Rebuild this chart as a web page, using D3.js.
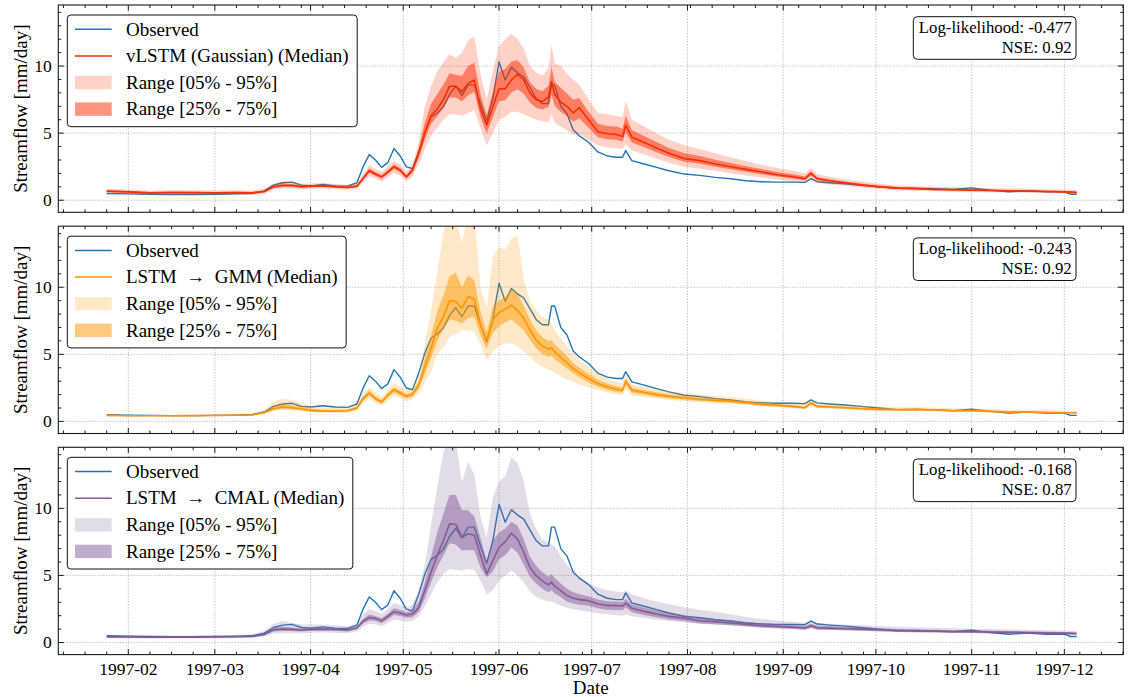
<!DOCTYPE html>
<html>
<head>
<meta charset="utf-8">
<script src="https://cdn.jsdelivr.net/npm/d3@7"></script>
<style>
  body { margin: 0; background: #fff; }
  svg { display: block; }
</style>
</head>
<body>
<svg id="chart" width="1133" height="697" font-family="Liberation Serif, Times New Roman, DejaVu Serif, serif"></svg>
<script>
// ---- data: daily streamflow (mm/day), sampled dates ----
const dates = [
  "1997-01-25","1997-02-01","1997-02-08","1997-02-15","1997-02-22",
  "1997-03-01","1997-03-08","1997-03-13","1997-03-17","1997-03-20","1997-03-23","1997-03-26","1997-03-29",
  "1997-04-01","1997-04-05","1997-04-09","1997-04-13","1997-04-16","1997-04-18","1997-04-20","1997-04-22","1997-04-24","1997-04-26","1997-04-28","1997-04-30",
  "1997-05-02","1997-05-04","1997-05-06","1997-05-08","1997-05-10","1997-05-12","1997-05-14","1997-05-16","1997-05-18","1997-05-20","1997-05-22","1997-05-24","1997-05-26","1997-05-28","1997-05-30",
  "1997-06-01","1997-06-03","1997-06-05","1997-06-07","1997-06-09","1997-06-11","1997-06-13","1997-06-15","1997-06-17","1997-06-18","1997-06-19","1997-06-21","1997-06-23","1997-06-25","1997-06-27","1997-06-30",
  "1997-07-03","1997-07-06","1997-07-09","1997-07-11","1997-07-12","1997-07-14","1997-07-18","1997-07-22","1997-07-26","1997-07-31",
  "1997-08-05","1997-08-10","1997-08-15","1997-08-20","1997-08-25","1997-08-30",
  "1997-09-04","1997-09-08","1997-09-10","1997-09-12","1997-09-16","1997-09-21","1997-09-26",
  "1997-10-02","1997-10-08","1997-10-14","1997-10-20","1997-10-26",
  "1997-11-01","1997-11-07","1997-11-13","1997-11-19","1997-11-25",
  "1997-12-01","1997-12-03","1997-12-05"
];

const observed = [
  0.50,0.47,0.45,0.43,0.43,0.45,0.47,0.50,0.70,1.12,
  1.30,1.35,1.12,1.07,1.17,1.07,1.05,1.30,2.50,3.40,
  3.00,2.45,2.80,3.86,3.30,2.49,2.36,3.60,5.10,6.20,
  6.50,6.96,7.90,8.50,7.80,8.60,8.60,7.20,5.90,7.60,
  10.30,8.96,9.90,9.50,9.20,8.40,7.60,7.20,7.20,8.60,
  8.60,7.00,6.44,5.25,4.80,4.32,3.60,3.30,3.20,3.20,
  3.70,2.95,2.70,2.45,2.20,1.95,1.85,1.70,1.60,1.45,
  1.38,1.35,1.35,1.33,1.60,1.38,1.30,1.22,1.12,1.00,
  0.88,0.90,0.85,0.80,0.92,0.75,0.62,0.70,0.62,0.62,
  0.45,0.45
];

// vLSTM (Gaussian)
const gaussMedian = [
  0.68,0.62,0.55,0.58,0.57,0.55,0.57,0.55,0.65,1.00,
  1.10,1.10,1.00,1.05,1.07,1.00,0.95,1.05,1.62,2.20,
  1.95,1.74,2.10,2.50,2.24,1.74,2.24,3.48,5.00,6.30,
  6.80,7.50,8.50,8.50,8.10,8.70,8.96,6.80,5.60,6.96,
  8.30,8.30,8.96,9.40,8.96,8.00,7.50,7.35,7.70,8.85,
  7.90,7.30,7.00,6.50,6.90,6.00,5.10,4.95,4.90,4.75,
  5.60,4.70,4.30,3.90,3.50,3.10,2.95,2.70,2.50,2.30,
  2.10,1.90,1.75,1.60,2.00,1.60,1.45,1.30,1.15,1.00,
  0.90,0.85,0.80,0.78,0.75,0.72,0.70,0.68,0.65,0.62,
  0.60,0.58
];
const gaussQ05 = [
  0.52,0.47,0.40,0.43,0.42,0.40,0.42,0.40,0.48,0.80,
  0.88,0.88,0.80,0.85,0.88,0.82,0.78,0.85,1.30,1.80,
  1.60,1.40,1.72,2.05,1.85,1.40,1.80,2.70,3.80,4.80,
  5.40,6.00,6.40,6.40,6.30,6.50,6.70,5.40,4.10,5.00,
  6.00,6.20,6.60,6.60,6.40,6.20,6.00,5.90,5.80,6.40,
  5.80,5.50,5.20,4.90,4.90,4.50,4.10,3.95,3.90,3.80,
  4.20,3.70,3.40,3.10,2.80,2.50,2.35,2.20,2.00,1.85,
  1.70,1.55,1.42,1.30,1.60,1.30,1.18,1.06,0.95,0.82,
  0.74,0.70,0.66,0.64,0.62,0.60,0.58,0.56,0.54,0.52,
  0.50,0.48
];
const gaussQ25 = [
  0.62,0.56,0.49,0.52,0.51,0.49,0.51,0.49,0.58,0.92,
  1.01,1.01,0.92,0.97,0.99,0.93,0.88,0.97,1.49,2.04,
  1.81,1.60,1.95,2.32,2.08,1.60,2.06,3.17,4.52,5.70,
  6.24,6.90,7.66,7.66,7.38,7.82,8.06,6.20,5.00,6.18,
  7.38,7.46,8.02,8.28,7.94,7.28,6.90,6.77,6.94,7.87,
  7.06,6.58,6.28,5.86,6.10,5.40,4.70,4.55,4.50,4.37,
  5.04,4.30,3.94,3.58,3.22,2.86,2.71,2.50,2.30,2.12,
  1.94,1.76,1.62,1.48,1.84,1.48,1.34,1.20,1.07,0.93,
  0.84,0.79,0.74,0.72,0.70,0.67,0.65,0.63,0.61,0.58,
  0.56,0.54
];
const gaussQ75 = [
  0.75,0.69,0.62,0.65,0.64,0.62,0.64,0.62,0.73,1.10,
  1.22,1.20,1.09,1.13,1.15,1.08,1.03,1.14,1.75,2.36,
  2.09,1.88,2.26,2.66,2.40,1.88,2.43,3.81,5.80,7.18,
  7.92,8.62,9.46,9.34,9.26,10.00,10.25,7.90,6.36,8.02,
  9.58,9.78,10.33,10.44,9.90,8.80,8.30,8.13,8.54,9.95,
  8.82,8.38,7.96,7.50,7.60,6.60,5.70,5.53,5.50,5.33,
  6.32,5.22,4.78,4.34,3.90,3.50,3.29,3.02,2.78,2.54,
  2.32,2.10,1.93,1.76,2.16,1.74,1.57,1.40,1.25,1.09,
  0.98,0.93,0.87,0.85,0.82,0.79,0.77,0.75,0.72,0.69,
  0.67,0.65
];
const gaussQ95 = [
  0.85,0.80,0.72,0.75,0.74,0.72,0.74,0.72,0.85,1.25,
  1.40,1.35,1.22,1.25,1.28,1.20,1.15,1.28,1.95,2.60,
  2.30,2.10,2.50,2.90,2.65,2.10,2.70,4.30,7.00,8.50,
  9.60,10.30,10.90,10.60,11.00,11.90,12.20,9.40,7.50,9.60,
  11.50,12.00,12.40,12.00,11.30,10.00,9.50,9.30,9.80,11.60,
  10.20,10.00,9.40,9.00,8.60,7.50,6.50,6.40,6.30,6.20,
  7.40,6.00,5.50,5.00,4.50,4.10,3.80,3.50,3.20,2.90,
  2.65,2.40,2.20,2.00,2.40,1.95,1.75,1.55,1.40,1.22,
  1.10,1.05,0.98,0.96,0.93,0.90,0.88,0.85,0.82,0.80,
  0.78,0.76
];

// LSTM -> GMM
const gmmMedian = [
  0.45,0.42,0.42,0.42,0.43,0.44,0.46,0.48,0.67,0.95,
  1.07,1.02,0.92,0.82,0.77,0.77,0.80,1.00,1.70,2.12,
  1.70,1.45,1.95,2.37,2.12,1.87,2.02,2.70,4.07,5.44,
  6.94,7.81,9.00,8.94,8.44,9.31,9.11,7.19,6.02,7.57,
  8.11,8.37,8.66,8.26,7.69,6.82,6.07,5.62,5.37,5.49,
  5.19,4.77,4.37,3.94,3.62,3.20,2.82,2.57,2.40,2.32,
  3.00,2.32,2.15,2.00,1.87,1.75,1.65,1.57,1.50,1.40,
  1.27,1.20,1.12,1.02,1.37,1.12,1.07,1.02,0.95,0.90,
  0.87,0.90,0.85,0.80,0.80,0.75,0.70,0.70,0.67,0.65,
  0.65,0.65
];
const gmmQ05 = [
  0.38,0.36,0.36,0.36,0.37,0.38,0.40,0.41,0.55,0.75,
  0.85,0.82,0.75,0.68,0.64,0.64,0.66,0.80,1.35,1.72,
  1.38,1.15,1.55,1.90,1.70,1.50,1.62,2.10,2.90,3.70,
  5.00,5.50,6.30,6.50,6.80,6.80,6.70,5.70,4.60,5.20,
  5.60,5.80,5.80,5.60,5.20,4.80,4.40,4.10,3.85,3.75,
  3.65,3.35,3.15,2.95,2.75,2.55,2.35,2.15,2.00,1.95,
  2.45,1.95,1.82,1.70,1.60,1.50,1.42,1.36,1.30,1.22,
  1.10,1.05,0.98,0.90,1.15,0.98,0.94,0.90,0.84,0.80,
  0.77,0.80,0.75,0.70,0.70,0.66,0.62,0.62,0.59,0.57,
  0.57,0.57
];
const gmmQ25 = [
  0.42,0.39,0.39,0.39,0.40,0.41,0.43,0.44,0.61,0.85,
  0.95,0.92,0.84,0.75,0.70,0.70,0.73,0.90,1.55,1.95,
  1.55,1.32,1.78,2.18,1.94,1.70,1.84,2.45,3.55,4.70,
  6.00,6.90,7.60,7.50,7.30,7.70,7.80,6.40,5.40,6.60,
  7.10,7.40,7.60,7.20,6.80,6.10,5.45,5.05,4.80,4.90,
  4.65,4.30,3.95,3.60,3.30,2.90,2.58,2.35,2.20,2.13,
  2.75,2.13,1.98,1.84,1.73,1.62,1.53,1.46,1.39,1.30,
  1.18,1.12,1.04,0.95,1.27,1.04,1.00,0.95,0.88,0.84,
  0.81,0.84,0.79,0.74,0.74,0.70,0.65,0.65,0.62,0.60,
  0.60,0.60
];
const gmmQ75 = [
  0.48,0.45,0.45,0.45,0.46,0.47,0.49,0.52,0.73,1.12,
  1.28,1.20,1.07,0.94,0.87,0.86,0.89,1.10,1.85,2.30,
  1.88,1.60,2.12,2.55,2.30,2.05,2.22,3.00,4.70,6.40,
  8.20,9.40,10.80,11.10,10.00,10.90,10.50,8.20,6.60,8.60,
  9.00,9.30,9.80,9.50,8.60,7.60,6.80,6.30,6.00,6.05,
  5.75,5.30,4.85,4.35,4.00,3.55,3.10,2.82,2.62,2.53,
  3.20,2.53,2.33,2.17,2.03,1.90,1.79,1.70,1.62,1.52,
  1.38,1.30,1.22,1.12,1.48,1.22,1.16,1.11,1.04,0.98,
  0.95,0.97,0.92,0.87,0.87,0.82,0.77,0.77,0.74,0.71,
  0.71,0.71
];
const gmmQ95 = [
  0.52,0.50,0.50,0.50,0.51,0.53,0.56,0.60,0.85,1.45,
  1.70,1.60,1.40,1.15,1.05,1.02,1.05,1.30,2.10,2.55,
  2.15,1.85,2.40,2.85,2.60,2.35,2.55,3.50,5.80,8.30,
  11.10,14.06,15.50,15.00,13.30,15.50,15.50,10.00,8.50,12.30,
  13.00,12.80,13.60,13.90,10.60,8.94,8.31,7.81,7.57,7.30,
  6.82,6.20,5.60,5.07,4.57,4.07,3.57,3.20,2.94,2.82,
  3.45,2.77,2.57,2.40,2.25,2.12,2.00,1.92,1.82,1.70,
  1.55,1.47,1.38,1.28,1.65,1.38,1.30,1.25,1.17,1.10,
  1.06,1.08,1.03,0.98,0.97,0.92,0.86,0.86,0.83,0.80,
  0.80,0.80
];

// LSTM -> CMAL
const cmalMedian = [
  0.42,0.42,0.40,0.40,0.40,0.42,0.43,0.45,0.60,0.95,
  1.00,0.98,0.93,0.98,1.00,0.98,0.93,1.10,1.60,1.87,
  1.80,1.62,1.95,2.30,2.20,2.05,2.12,2.60,3.90,5.24,
  6.50,7.60,8.85,8.80,7.85,8.10,8.00,6.50,5.10,6.10,
  7.10,7.50,8.15,7.70,6.73,5.60,5.00,4.60,4.30,4.50,
  4.20,3.87,3.50,3.30,3.20,3.12,2.87,2.77,2.75,2.72,
  2.95,2.55,2.32,2.12,1.95,1.82,1.62,1.55,1.45,1.35,
  1.25,1.20,1.15,1.08,1.25,1.10,1.07,1.03,1.00,0.95,
  0.90,0.87,0.85,0.82,0.80,0.78,0.76,0.75,0.72,0.70,
  0.68,0.67
];
const cmalQ05 = [
  0.32,0.32,0.30,0.30,0.30,0.31,0.32,0.34,0.45,0.68,
  0.70,0.70,0.68,0.72,0.74,0.73,0.70,0.82,1.20,1.40,
  1.35,1.20,1.45,1.72,1.65,1.55,1.60,1.95,2.70,3.60,
  4.50,5.10,5.50,5.40,5.36,5.50,5.40,4.60,3.60,3.90,
  4.60,5.00,5.36,5.00,4.50,3.80,3.40,3.20,3.05,3.05,
  2.95,2.75,2.60,2.48,2.40,2.30,2.18,2.10,2.04,2.00,
  2.10,1.95,1.82,1.70,1.60,1.50,1.40,1.33,1.28,1.22,
  1.15,1.10,1.05,1.00,1.05,0.98,0.95,0.92,0.88,0.83,
  0.79,0.76,0.74,0.71,0.69,0.67,0.65,0.64,0.61,0.59,
  0.57,0.56
];
const cmalQ25 = [
  0.38,0.38,0.36,0.36,0.36,0.38,0.39,0.41,0.54,0.83,
  0.87,0.86,0.82,0.87,0.89,0.87,0.83,0.97,1.42,1.65,
  1.60,1.43,1.73,2.05,1.97,1.84,1.88,2.28,3.30,4.50,
  5.60,6.50,7.40,7.30,6.85,6.90,6.85,5.60,4.86,5.30,
  6.20,6.50,7.10,6.70,5.80,4.90,4.40,4.00,3.75,3.90,
  3.65,3.40,3.05,2.90,2.82,2.75,2.55,2.45,2.42,2.40,
  2.62,2.25,2.05,1.88,1.72,1.60,1.42,1.37,1.28,1.20,
  1.10,1.05,1.00,0.94,1.10,0.96,0.94,0.91,0.88,0.84,
  0.79,0.77,0.75,0.72,0.71,0.69,0.67,0.67,0.64,0.62,
  0.60,0.59
];
const cmalQ75 = [
  0.46,0.46,0.44,0.44,0.44,0.46,0.47,0.50,0.68,1.08,
  1.18,1.12,1.05,1.08,1.08,1.05,1.00,1.18,1.75,2.08,
  1.98,1.80,2.15,2.55,2.42,2.25,2.38,3.05,4.50,6.40,
  8.20,9.60,11.00,11.00,9.85,9.85,9.40,7.80,6.10,7.60,
  8.20,8.50,9.00,8.70,7.70,6.40,5.70,5.25,4.90,5.10,
  4.80,4.40,4.00,3.75,3.60,3.45,3.20,3.08,3.05,3.02,
  3.25,2.85,2.60,2.38,2.20,2.05,1.85,1.76,1.65,1.53,
  1.42,1.36,1.30,1.23,1.40,1.25,1.21,1.16,1.13,1.07,
  1.01,0.97,0.95,0.92,0.89,0.87,0.85,0.83,0.80,0.78,
  0.76,0.75
];
const cmalQ95 = [
  0.55,0.55,0.52,0.52,0.52,0.55,0.56,0.60,0.85,1.40,
  1.60,1.45,1.35,1.35,1.32,1.28,1.22,1.40,2.10,2.50,
  2.35,2.10,2.50,2.95,2.80,2.60,2.85,3.90,5.80,8.80,
  11.60,14.20,15.50,15.00,11.90,13.50,12.50,9.40,7.80,10.80,
  12.00,12.40,13.80,13.40,12.00,9.60,8.50,7.70,7.40,7.30,
  7.20,6.40,5.80,5.30,4.90,4.40,4.10,3.90,3.80,3.75,
  3.90,3.60,3.30,3.05,2.85,2.62,2.45,2.30,2.10,1.90,
  1.75,1.65,1.55,1.48,1.62,1.45,1.40,1.35,1.30,1.24,
  1.17,1.12,1.10,1.06,1.03,1.00,0.98,0.96,0.92,0.90,
  0.88,0.86
];

const modelNames = ["vLSTM (Gaussian) (Median)", "LSTM\u2002\u2192\u2002GMM (Median)", "LSTM\u2002\u2192\u2002CMAL (Median)"];
const modelColors = ["#FF2C00", "#FF9500", "#845B97"];
const logLikelihood = ["-0.477", "-0.243", "-0.168"];
const nseScores = ["0.92", "0.92", "0.87"];
const yTickValues = [0, 5, 10];
const bandLabels = ["Range [05% - 95%]", "Range [25% - 75%]"];

// ---- layout ----
const FONT = "Liberation Serif, Times New Roman, DejaVu Serif, serif";
const svg = d3.select("#chart");
const plotLeft = 58.3, plotRight = 1123.3;
const panelTops = [5, 226.2, 447.3];
const panelH = 207.3;
const obsColor = "#1f77b4";
const gridColor = "#a8a8a8";

const parseDate = d3.utcParse("%Y-%m-%d");
const t = dates.map(parseDate);
const x = d3.scaleUtc()
  .domain([new Date(Date.UTC(1997, 0, 9, 8)), new Date(Date.UTC(1997, 11, 20, 2))])
  .range([plotLeft, plotRight]);

const monthTicks = d3.utcMonth.range(x.domain()[0], x.domain()[1]);
const weekTicks = d3.utcSaturday.range(x.domain()[0], x.domain()[1])
  .filter(d => d.getUTCDate() !== 1);

const models = [
  { median: gaussMedian, q05: gaussQ05, q25: gaussQ25, q75: gaussQ75, q95: gaussQ95 },
  { median: gmmMedian,   q05: gmmQ05,   q25: gmmQ25,   q75: gmmQ75,   q95: gmmQ95 },
  { median: cmalMedian,  q05: cmalQ05,  q25: cmalQ25,  q75: cmalQ75,  q95: cmalQ95 }
];

const defs = svg.append("defs");

function label(sel) {
  return sel.attr("font-family", FONT).attr("fill", "#000");
}

models.forEach((m, i) => {
  const top = panelTops[i];
  const bottom = top + panelH;
  const color = modelColors[i];
  const y = d3.scaleLinear().domain([-0.9, 14.55]).range([bottom, top]);
  const g = svg.append("g");

  defs.append("clipPath").attr("id", "clip" + i)
    .append("rect").attr("x", plotLeft).attr("y", top)
    .attr("width", plotRight - plotLeft).attr("height", panelH);

  // grid
  const grid = g.append("g").attr("stroke", gridColor).attr("stroke-width", 0.8)
    .attr("stroke-dasharray", "1.2,1.6");
  grid.selectAll(".gx").data(monthTicks).join("line")
    .attr("x1", d => x(d)).attr("x2", d => x(d)).attr("y1", top).attr("y2", bottom);
  grid.selectAll(".gy").data(yTickValues).join("line")
    .attr("x1", plotLeft).attr("x2", plotRight).attr("y1", d => y(d)).attr("y2", d => y(d));

  const plot = g.append("g").attr("clip-path", `url(#clip${i})`);
  const idx = d3.range(t.length);

  const line = arr => d3.line().x(k => x(t[k])).y(k => y(arr[k]))(idx);
  const area = (lo, hi) => d3.area().x(k => x(t[k])).y0(k => y(lo[k])).y1(k => y(hi[k]))(idx);

  plot.append("path").attr("d", line(observed)).attr("fill", "none")
    .attr("stroke", obsColor).attr("stroke-width", 1.4).attr("stroke-linejoin", "round");
  plot.append("path").attr("d", line(m.median)).attr("fill", "none")
    .attr("stroke", color).attr("stroke-width", 1.6).attr("stroke-linejoin", "round");
  plot.append("path").attr("d", area(m.q05, m.q95)).attr("fill", color).attr("fill-opacity", 0.22);
  plot.append("path").attr("d", area(m.q25, m.q75)).attr("fill", color).attr("fill-opacity", 0.5);

  // frame
  g.append("rect").attr("x", plotLeft).attr("y", top)
    .attr("width", plotRight - plotLeft).attr("height", panelH)
    .attr("fill", "none").attr("stroke", "#1a1a1a").attr("stroke-width", 1.1);

  // inward ticks on all four sides
  const ticks = g.append("g").attr("stroke", "#1a1a1a").attr("stroke-width", 1);
  const majL = 5.5, minL = 3;
  monthTicks.forEach(d => {
    ticks.append("line").attr("x1", x(d)).attr("x2", x(d)).attr("y1", bottom).attr("y2", bottom - majL);
    ticks.append("line").attr("x1", x(d)).attr("x2", x(d)).attr("y1", top).attr("y2", top + majL);
  });
  weekTicks.forEach(d => {
    ticks.append("line").attr("x1", x(d)).attr("x2", x(d)).attr("y1", bottom).attr("y2", bottom - minL);
    ticks.append("line").attr("x1", x(d)).attr("x2", x(d)).attr("y1", top).attr("y2", top + minL);
  });
  d3.range(0, 15).forEach(v => {
    const L = yTickValues.includes(v) ? majL : minL;
    ticks.append("line").attr("x1", plotLeft).attr("x2", plotLeft + L).attr("y1", y(v)).attr("y2", y(v));
    ticks.append("line").attr("x1", plotRight).attr("x2", plotRight - L).attr("y1", y(v)).attr("y2", y(v));
  });

  // y tick labels
  g.selectAll(".ylab").data(yTickValues).join("text")
    .call(label)
    .attr("x", plotLeft - 6.5).attr("y", d => y(d)).attr("dy", "0.34em")
    .attr("text-anchor", "end").attr("font-size", 17.5).text(d => d);

  // y axis title
  g.append("text").call(label)
    .attr("transform", `translate(27,${(top + bottom) / 2}) rotate(-90)`)
    .attr("text-anchor", "middle").attr("font-size", 19)
    .text("Streamflow [mm/day]");

  // x tick labels on the lowest panel
  if (i === models.length - 1) {
    g.selectAll(".xlab").data(monthTicks).join("text").call(label)
      .attr("x", d => x(d)).attr("y", bottom + 20)
      .attr("text-anchor", "middle").attr("font-size", 17.5)
      .text(d3.utcFormat("%Y-%m"));
    g.append("text").call(label).attr("x", (plotLeft + plotRight) / 2).attr("y", bottom + 39)
      .attr("text-anchor", "middle").attr("font-size", 19).text("Date");
  }

  // legend
  const lg = g.append("g");
  const boxX = 67.3, boxY = top + 10, rowH = 26.6, textX = 126;
  const entries = [
    { kind: "line", color: obsColor, label: "Observed" },
    { kind: "line", color: color, label: modelNames[i] },
    { kind: "patch", color: color, opacity: 0.22, label: bandLabels[0] },
    { kind: "patch", color: color, opacity: 0.5, label: bandLabels[1] }
  ];
  const box = lg.append("rect").attr("x", boxX).attr("y", boxY).attr("rx", 3.5)
    .attr("height", 111.7).attr("fill", "#fff").attr("stroke", "#111").attr("stroke-width", 1);
  let maxW = 0;
  entries.forEach((e, k) => {
    const cy = boxY + 14.3 + k * rowH;
    if (e.kind === "line") {
      lg.append("line").attr("x1", 75).attr("x2", 111.7).attr("y1", cy).attr("y2", cy)
        .attr("stroke", e.color).attr("stroke-width", 1.5);
    } else {
      lg.append("rect").attr("x", 75).attr("y", cy - 6.7).attr("width", 36.7).attr("height", 13.4)
        .attr("fill", e.color).attr("fill-opacity", e.opacity);
    }
    const tx = lg.append("text").call(label).attr("x", textX).attr("y", cy).attr("dy", "0.33em")
      .attr("font-size", 19).text(e.label);
    maxW = Math.max(maxW, tx.node().getComputedTextLength());
  });
  box.attr("width", textX + maxW + 8.5 - boxX);

  // metrics box: two right-aligned lines
  const mg = g.append("g");
  const tRight = 1071.7;
  const l1 = mg.append("text").call(label).attr("text-anchor", "end").attr("font-size", 16.8)
    .attr("x", tRight).attr("y", top + 28).text("Log-likelihood: " + logLikelihood[i]);
  mg.append("text").call(label).attr("text-anchor", "end").attr("font-size", 16.8)
    .attr("x", tRight).attr("y", top + 47.5).text("NSE: " + nseScores[i]);
  const w1 = l1.node().getComputedTextLength();
  mg.insert("rect", "text").attr("x", tRight - w1 - 5.5).attr("y", top + 11.7)
    .attr("width", w1 + 9.8).attr("height", 42.6).attr("rx", 4)
    .attr("fill", "#fff").attr("stroke", "#111").attr("stroke-width", 1);
});
</script>
</body>
</html>
